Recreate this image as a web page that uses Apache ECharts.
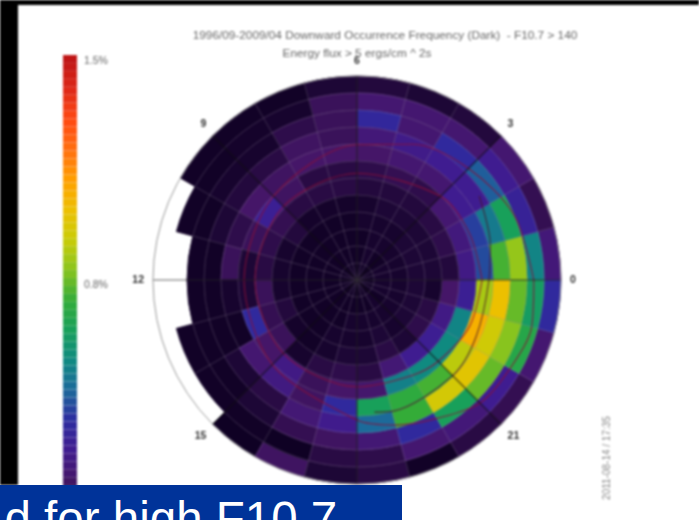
<!DOCTYPE html>
<html>
<head>
<meta charset="utf-8">
<title>Downward Occurrence Frequency</title>
<script src="https://cdn.jsdelivr.net/npm/echarts@6/dist/echarts.min.js"></script>
<style>
html,body{margin:0;padding:0;background:#fff;overflow:hidden;}
#main{position:absolute;left:0;top:0;width:699px;height:520px;filter:blur(1px);}
#banner{position:absolute;left:0;top:485px;width:402px;height:35px;background:#003399;overflow:hidden;}
#banner span{position:absolute;left:4.5px;top:7px;font:47.5px/54px "Liberation Sans",sans-serif;color:#fff;white-space:nowrap;}
</style>
</head>
<body>
<div id="main"></div>
<div id="banner"><span>d for high F10.7</span></div>
<script>
// frequency (%) per magnetic local time hour 0..23, one array per 2.5 deg latitude ring
var ring60 = [.14,.07,.12,.04,.03,.04,.03,.01,.01,.01,null,null,null,null,null,.005,.09,.03,.05,.01,.05,.07,.12,.28];
var ring62 = [.48,.24,.2,.12,.12,.12,.08,.02,.015,.01,.01,null,null,.01,.01,.01,.005,.05,.06,.12,.14,.2,.65,.58];
var ring65 = [.82,.6,.38,.28,.12,.27,.08,.06,.02,.02,.01,.01,.01,.01,.01,.03,.07,.09,.13,.28,.6,.76,.8,.76];
var ring67 = [.72,.45,.2,.2,.18,.14,.08,.09,.05,.04,.03,.01,.01,.01,.03,.05,.13,.19,.4,.7,.93,.97,.92,1.0];
var ring70 = [.35,.33,.2,.12,.12,.1,.1,.1,.09,.1,.06,.08,.02,.01,.12,.16,.09,.28,.6,.68,.72,.88,1.05,.85];
var ring72 = [.17,.15,.12,.06,.07,.06,.05,.05,.09,.22,.08,.03,.03,.28,.1,.17,.08,.1,.11,.47,.5,.5,.48,.22];
var ring75 = [.04,.06,.05,.04,.04,.04,.05,.05,.05,.07,.06,.05,.08,.07,.08,.02,.05,.06,.05,.13,.2,.21,.17,.1];
var ring77 = [.03,.03,.03,.03,.03,.02,.015,.015,.015,.04,.02,.02,.02,.04,.015,.01,.02,.03,.03,.05,.03,.06,.05,.02];
var ring80 = [.03,.03,.03,.02,.02,.02,.01,.01,.01,.01,.01,.01,.01,.01,.01,.01,.02,.02,.02,.03,.02,.03,.03,.03];
var ring82 = [.02,.02,.02,.02,.02,.01,.01,.01,.01,.01,.01,.01,.01,.01,.01,.01,.01,.02,.02,.02,.02,.02,.02,.02];
var ring85 = [.02,.02,.01,.01,.02,.01,.01,.01,.01,.01,.01,.01,.01,.01,.01,.01,.01,.01,.01,.01,.02,.01,.02,.02];
var ring87 = [.01,.01,.01,.01,.01,.01,.01,.01,.01,.01,.01,.01,.01,.01,.01,.01,.01,.01,.01,.01,.01,.01,.01,.01];
var rings = [ring60,ring62,ring65,ring67,ring70,ring72,ring75,ring77,ring80,ring82,ring85,ring87];

// dark red oval boundaries: hour, latitude
var outerHours = [0,1.5,3,4.5,6,9,12,15,18,19,20,21,22,23,24];
var outerLats = [64,65,66.8,68.4,70.1,72.6,73.4,72.4,69.4,67.9,66.5,64.4,64,63.4,64];
var innerHours = [0,1.5,3,6,9,12,15,18,20,21,22.5,24];
var innerLats = [71.6,72.1,72.6,74.3,74.7,75,74.7,74.3,73.8,73.1,72.1,71.6];
var midHours = [18.5,19,21,22.3,24,0,1,2.3];
var midLats = [70.4,70,70.1,70.6,70.6,70.6,69.7,68.2];

var latLabels = [80,70,60];
var colorStops = ['#0c0020','#451668','#3f1c90','#2c2ca0','#1c6a9a','#0f8a80','#18a05a','#34ac38','#88c41e','#c8cc08','#ecc000','#ffa000','#ff7010','#ff4a12','#e02a18','#c01515'];
var barTicks = [0.75,1.5];

var cells = [];
rings.forEach(function(row, k){
	row.forEach(function(v, h){
		if(v !== null){
			cells.push([60 + 2.5 * k, h, v]);
		}
	});
});
var bandStep = 1.52 / 57;
var bands = [];
for(var i = 0; i < 57; i++){
	bands.push([bandStep * i, 0, bandStep * (i + 0.5)]);
}

function cellShape(params, api){
	var lat = api.value(0), hour = api.value(1);
	var a = api.coord([lat, hour]);
	var b = api.coord([lat + 2.5, hour + 1]);
	return {
		cx: params.coordSys.cx,
		cy: params.coordSys.cy,
		r: a[2],
		r0: b[2],
		startAngle: -b[3],
		endAngle: -a[3]
	};
}
// stroke in the fill colour so no white shows through the seams
function renderCell(params, api){
	var c = api.visual('color');
	return {
		type: 'sector',
		shape: cellShape(params, api),
		style: {fill: c, stroke: c, lineWidth: 1}
	};
}
function renderOutline(params, api){
	return {
		type: 'sector',
		shape: cellShape(params, api),
		style: {fill: 'none', stroke: 'rgba(150,140,160,0.2)', lineWidth: 0.8}
	};
}
function renderBand(params, api){
	var lo = api.coord([0, api.value(0)]);
	var hi = api.coord([1, api.value(0) + bandStep]);
	return {
		type: 'rect',
		shape: {x: lo[0], y: hi[1], width: hi[0] - lo[0], height: lo[1] - hi[1]},
		style: {fill: api.visual('color'), stroke: 'rgba(255,255,255,0.12)', lineWidth: 0.5}
	};
}
function ovalSeries(hours, lats, color){
	return {
		type: 'line', coordinateSystem: 'polar', silent: true, z: 4,
		showSymbol: false, smooth: 0.3,
		lineStyle: {color: color, width: 1.1},
		data: lats.map(function(lat, i){ return [lat, hours[i]]; })
	};
}

var chart = echarts.init(document.getElementById('main'));
chart.setOption({
	animation: false,
	backgroundColor: '#fff',
	title: [{
		text: '1996/09-2009/04 Downward Occurrence Frequency (Dark)  - F10.7 > 140',
		left: 380, top: 25, textAlign: 'center',
		textStyle: {fontFamily: 'Liberation Sans', fontSize: 11.8, fontWeight: 'normal', color: '#666'}
	},{
		text: 'Energy flux > 5 ergs/cm ^ 2s',
		left: 352, top: 43, textAlign: 'center',
		textStyle: {fontFamily: 'Liberation Sans', fontSize: 11.8, fontWeight: 'normal', color: '#666'}
	}],
	polar: {center: [357, 280], radius: 204},
	angleAxis: {
		type: 'value', min: 0, max: 24, interval: 3,
		startAngle: 0, clockwise: false, z: 5,
		axisLine: {lineStyle: {color: '#999', width: 1}},
		axisTick: {show: false},
		axisLabel: {
			margin: 9, color: '#333', fontSize: 10.5, fontWeight: 'bold',
			fontFamily: 'Liberation Sans',
			formatter: function(v){ return v === 18 ? '' : String(v); }
		},
		splitLine: {show: true, lineStyle: {color: 'rgba(0,0,0,0.6)', width: 1.2}}
	},
	radiusAxis: {type: 'value', min: 60, max: 90, inverse: true, show: false},
	grid: {left: 63, top: 55, width: 14, height: 454},
	xAxis: {type: 'value', min: 0, max: 1, show: false},
	yAxis: {
		type: 'value', min: 0, max: 1.52, position: 'right',
		axisLine: {show: false},
		splitLine: {show: false},
		axisTick: {show: true, length: 3, lineStyle: {color: '#aaa'}, customValues: barTicks},
		axisLabel: {
			margin: 7, color: '#666', fontSize: 10.5, fontFamily: 'Liberation Sans',
			customValues: barTicks,
			formatter: function(v){ return v.toFixed(1) + '%'; }
		}
	},
	visualMap: {
		show: false, type: 'continuous', min: 0, max: 1.5,
		dimension: 2, seriesIndex: [0, 1],
		inRange: {color: colorStops}
	},
	series: [{
		type: 'custom', coordinateSystem: 'polar', silent: true, z: 2,
		renderItem: renderCell,
		encode: {radius: 0, angle: 1},
		data: cells
	},{
		type: 'custom', coordinateSystem: 'cartesian2d', silent: true,
		xAxisIndex: 0, yAxisIndex: 0,
		renderItem: renderBand,
		encode: {y: 0},
		data: bands
	},{
		type: 'custom', coordinateSystem: 'polar', silent: true, z: 3,
		renderItem: renderOutline,
		encode: {radius: 0, angle: 1},
		data: cells
	},
	ovalSeries(outerHours, outerLats, 'rgba(140,15,55,0.85)'),
	ovalSeries(innerHours, innerLats, 'rgba(140,15,55,0.85)'),
	ovalSeries(midHours, midLats, 'rgba(70,20,40,0.8)'),
	{
		type: 'scatter', coordinateSystem: 'polar', silent: true, z: 6,
		symbolSize: 1, itemStyle: {opacity: 0},
		data: latLabels.map(function(lat){
			return {
				value: [lat, 1.5],
				label: {
					show: true, position: 'inside',
					offset: lat === 60 ? [6, -2] : [0, 0],
					formatter: String(lat),
					fontFamily: 'Liberation Sans', fontSize: 10.5,
					color: lat === 60 ? '#666' : '#b9b9c4'
				}
			};
		})
	}],
	graphic: [
		{type: 'rect', z: 100, shape: {x: 0, y: 0, width: 18, height: 485}, style: {fill: '#000'}},
		{type: 'rect', z: 100, shape: {x: 0, y: 0, width: 699, height: 5}, style: {fill: '#000'}},
		{
			type: 'text', z: 100, x: 607, y: 458, rotation: Math.PI / 2,
			style: {
				text: '2011-08-14 / 17:35', fill: '#888', fontSize: 10,
				fontFamily: 'Liberation Sans', align: 'center', verticalAlign: 'middle'
			}
		}
	]
});
</script>
</body>
</html>
